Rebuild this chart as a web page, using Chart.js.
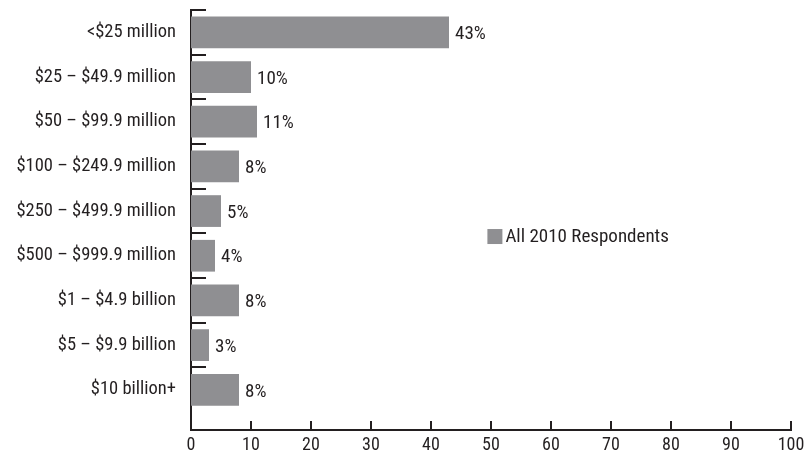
<!DOCTYPE html>
<html>
<head>
<meta charset="utf-8">
<script src="https://cdn.jsdelivr.net/npm/chart.js@4.4.1/dist/chart.umd.min.js"></script>
<style>
  html, body { margin: 0; padding: 0; background: #fff; }
  #wrap { width: 804px; height: 455px; }
</style>
</head>
<body>
<div id="wrap"><canvas id="barChart" width="804" height="455"></canvas></div>
<script>
// chart data
const categories = [
    '<$25 million',
    '$25 – $49.9 million',
    '$50 – $99.9 million',
    '$100 – $249.9 million',
    '$250 – $499.9 million',
    '$500 – $999.9 million',
    '$1 – $4.9 billion',
    '$5 – $9.9 billion',
    '$10 billion+'
];
const respondents2010 = [43, 10, 11, 8, 5, 4, 8, 3, 8];
const xTicks = [0, 10, 20, 30, 40, 50, 60, 70, 80, 90, 100];
const seriesLabel = 'All 2010 Respondents';

const FONT = "'Liberation Sans Narrow', 'Roboto Condensed', 'Arial Narrow', 'Liberation Sans', sans-serif";
const TEXT = '#231f20';
const BAR = '#8f8f92';

// inward tick marks, value labels and the legend box
const extras = {
    id: 'extras',
    afterDatasetsDraw(chart) {
        const ctx = chart.ctx;
        const x = chart.scales.x;
        const y = chart.scales.y;
        const area = chart.chartArea;
        ctx.save();
        ctx.strokeStyle = '#231f20';
        ctx.lineWidth = 2;
        // y ticks between categories, pointing right
        for (let i = 0; i < categories.length; i++) {
            const py = Math.round(y.getPixelForValue(i - 0.5));
            ctx.beginPath();
            ctx.moveTo(area.left, py);
            ctx.lineTo(area.left + 15, py);
            ctx.stroke();
        }
        // x ticks pointing up
        xTicks.forEach(v => {
            if (v === 0) return;
            const px = Math.round(x.getPixelForValue(v));
            ctx.beginPath();
            ctx.moveTo(px, area.bottom);
            ctx.lineTo(px, area.bottom - 9);
            ctx.stroke();
        });
        // value labels
        ctx.fillStyle = TEXT;
        ctx.font = '19px ' + FONT;
        ctx.textAlign = 'left';
        ctx.textBaseline = 'middle';
        const meta = chart.getDatasetMeta(0);
        meta.data.forEach((bar, i) => {
            ctx.fillText(respondents2010[i] + '%', bar.x + 6, bar.y + 2);
        });
        // legend
        const lx = area.left + (area.right - area.left) * 0.494;
        const ly = y.getPixelForValue(4.57);
        ctx.fillStyle = BAR;
        ctx.fillRect(lx, ly - 7.5, 15, 15);
        ctx.fillStyle = TEXT;
        ctx.font = '19px ' + FONT;
        ctx.fillText(seriesLabel, lx + 18, ly + 1);
        ctx.restore();
    }
};

document.addEventListener('DOMContentLoaded', function () {
    const ctx = document.getElementById('barChart').getContext('2d');
    new Chart(ctx, {
        type: 'bar',
        data: {
            datasets: [{
                label: seriesLabel,
                data: respondents2010.map((v, i) => ({ x: v, y: i })),
                backgroundColor: BAR,
                borderWidth: 0,
                barPercentage: 0.71,
                categoryPercentage: 1
            }]
        },
        plugins: [extras],
        options: {
            indexAxis: 'y',
            responsive: false,
            animation: false,
            layout: { padding: { top: 10, right: 13, left: 0, bottom: 0 } },
            plugins: {
                legend: { display: false },
                tooltip: { enabled: false }
            },
            scales: {
                x: {
                    type: 'linear',
                    min: 0,
                    max: 100,
                    afterBuildTicks: s => { s.ticks = xTicks.map(v => ({ value: v })); },
                    afterFit: s => { s.height = 25; s.paddingLeft = 0; s.paddingRight = 0; },
                    grid: { display: false, drawTicks: false },
                    border: { display: true, color: '#231f20', width: 2 },
                    ticks: { color: TEXT, font: { family: FONT, size: 18 }, padding: 5, maxRotation: 0 }
                },
                y: {
                    type: 'linear',
                    reverse: true,
                    offset: false,
                    min: -0.5,
                    max: 8.9,
                    afterBuildTicks: s => { s.ticks = categories.map((c, i) => ({ value: i })); },
                    afterFit: s => { s.width = 191; s.paddingTop = 0; s.paddingBottom = 0; },
                    grid: { display: false, drawTicks: false, offset: false },
                    border: { display: true, color: '#231f20', width: 2 },
                    ticks: {
                        color: TEXT,
                        font: { family: FONT, size: 18.5 },
                        padding: 15,
                        callback: v => categories[v] ?? ''
                    }
                }
            }
        }
    });
});
</script>
</body>
</html>
